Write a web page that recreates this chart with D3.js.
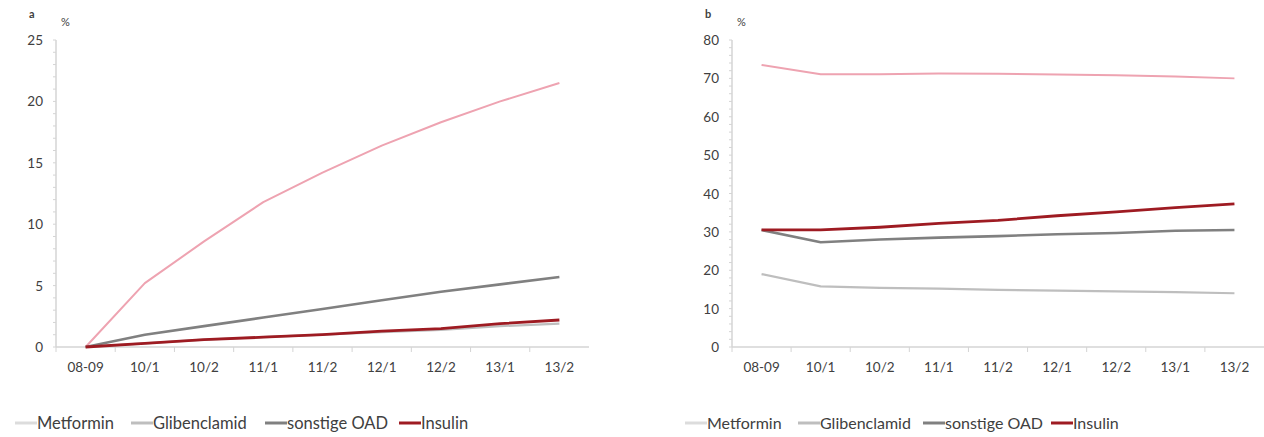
<!DOCTYPE html>
<html>
<head>
<meta charset="utf-8">
<script src="https://cdn.jsdelivr.net/npm/d3@7"></script>
<style>
  body { margin: 0; background: #fff; }
  svg text { font-family: Lato, "Open Sans", sans-serif; fill: #404040; }
</style>
</head>
<body>
<main></main>
<script>
// two panels, same four series, excel-ish look

const categories = ['08-09', '10/1', '10/2', '11/1', '11/2', '12/1', '12/2', '13/1', '13/2'];
const seriesNames = ['Metformin', 'Glibenclamid', 'sonstige OAD', 'Insulin'];

// panel a
const aMetformin    = [0, 5.2, 8.6, 11.8, 14.2, 16.4, 18.3, 20.0, 21.5];
const aGlibenclamid = [0, 0.3, 0.6, 0.8, 1.0, 1.2, 1.4, 1.7, 1.9];
const aSonstige     = [0, 1.0, 1.7, 2.4, 3.1, 3.8, 4.5, 5.1, 5.7];
const aInsulin      = [0, 0.3, 0.6, 0.8, 1.0, 1.3, 1.5, 1.9, 2.2];
const aTicks = [0, 5, 10, 15, 20, 25];

// panel b
const bMetformin    = [73.5, 71.1, 71.1, 71.3, 71.2, 71.0, 70.8, 70.5, 70.0];
const bGlibenclamid = [19.0, 15.8, 15.4, 15.2, 14.9, 14.7, 14.5, 14.3, 14.0];
const bSonstige     = [30.5, 27.3, 28.0, 28.5, 28.9, 29.4, 29.7, 30.3, 30.5];
const bInsulin      = [30.5, 30.5, 31.2, 32.2, 33.0, 34.2, 35.2, 36.3, 37.3];
const bTicks = [0, 10, 20, 30, 40, 50, 60, 70, 80];

const colors = ['#eea3b1', '#bebebe', '#808080', '#9e1b22'];
const widths = [2, 2.2, 2.6, 2.8];
const axisGray = '#d4d4d4';

let svg = d3.select('main').append('svg')
  .attr('width', 1264)
  .attr('height', 437);

function panel(opts) {
  let g = svg.append('g');

  let x = d3.scaleBand().domain(categories).range([opts.x0, opts.x1]);
  let y = d3.scaleLinear().domain([0, opts.ymax]).range([347, 40]);
  let cx = d => x(d) + x.bandwidth() / 2;

  // minor ticks on y
  let minor = d3.range(0, opts.ymax + 1e-9, opts.minorStep);
  g.selectAll('line.minor').data(minor).enter().append('line')
    .attr('x1', opts.x0 - 3).attr('x2', opts.x0)
    .attr('y1', d => y(d)).attr('y2', d => y(d))
    .attr('stroke', axisGray).attr('stroke-width', 1);

  // y axis
  g.append('line')
    .attr('x1', opts.x0).attr('x2', opts.x0)
    .attr('y1', y(opts.ymax)).attr('y2', y(0))
    .attr('stroke', axisGray).attr('stroke-width', 1.5);

  g.selectAll('text.ytick').data(opts.ticks).enter().append('text')
    .attr('x', opts.x0 - 13)
    .attr('y', d => y(d) + 5)
    .attr('text-anchor', 'end')
    .attr('font-size', 13.5)
    .text(d => d);

  // x axis
  g.append('line')
    .attr('x1', opts.x0).attr('x2', opts.x1)
    .attr('y1', y(0)).attr('y2', y(0))
    .attr('stroke', axisGray).attr('stroke-width', 1.5);

  g.selectAll('line.xtick').data(categories).enter().append('line')
    .attr('x1', d => x(d)).attr('x2', d => x(d))
    .attr('y1', y(0)).attr('y2', y(0) + 5)
    .attr('stroke', axisGray);

  g.selectAll('text.xtick').data(categories).enter().append('text')
    .attr('x', cx)
    .attr('y', 372)
    .attr('text-anchor', 'middle')
    .attr('font-size', 13.5)
    .text(d => d);

  // panel letter and unit
  g.append('text').attr('x', opts.x0 - 27).attr('y', 18)
    .attr('font-size', 11).attr('font-weight', 'bold').attr('fill', '#222').text(opts.letter);
  g.append('text').attr('x', opts.x0 + 5).attr('y', 26)
    .attr('font-size', 11).text('%');

  // lines
  let line = d3.line()
    .x((d, i) => cx(categories[i]))
    .y(d => y(d));

  opts.series.forEach((vals, k) => {
    g.append('path')
      .attr('d', line(vals))
      .attr('fill', 'none')
      .attr('stroke', colors[k])
      .attr('stroke-width', widths[k])
      .attr('stroke-linejoin', 'round');
  });

  // legend
  seriesNames.forEach((name, k) => {
    let tx = opts.legendText[k];
    g.append('line')
      .attr('x1', tx - 22).attr('x2', tx)
      .attr('y1', 423).attr('y2', 423)
      .attr('stroke', k == 0 ? '#dcdcdc' : colors[k])
      .attr('stroke-width', 3);
    g.append('text')
      .attr('x', tx)
      .attr('y', 429)
      .attr('font-size', opts.legendSize)
      .attr('fill', '#333')
      .text(name);
  });
}

panel({
  letter: 'a', x0: 56, x1: 589, ymax: 25, ticks: aTicks, minorStep: 1,
  series: [aMetformin, aGlibenclamid, aSonstige, aInsulin],
  legendText: [37, 153, 287, 421], legendSize: 16.5
});

panel({
  letter: 'b', x0: 732, x1: 1264, ymax: 80, ticks: bTicks, minorStep: 2,
  series: [bMetformin, bGlibenclamid, bSonstige, bInsulin],
  legendText: [707, 820, 945, 1073], legendSize: 16
});
</script>
</body>
</html>
